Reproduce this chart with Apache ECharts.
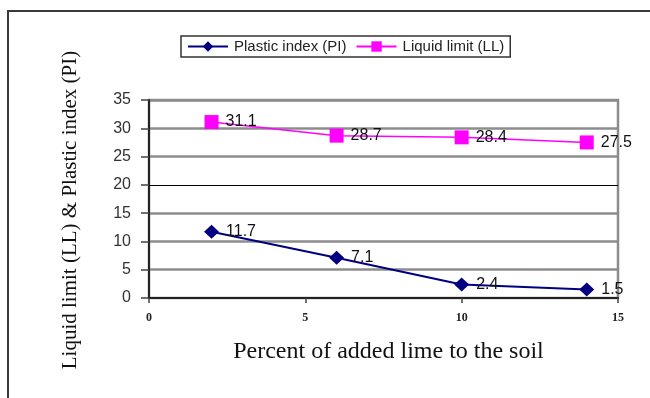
<!DOCTYPE html>
<html>
<head>
<meta charset="utf-8">
<script src="https://cdn.jsdelivr.net/npm/echarts@6/dist/echarts.min.js"></script>
<style>
  html, body { margin: 0; padding: 0; background: #fff; }
  #chart { width: 650px; height: 398px; }
</style>
</head>
<body>
<div id="chart"></div>
<script>
// Percent of lime added, and the two soil indices
const limePercent = [2, 6, 10, 14];
const plasticIndex = [11.7, 7.1, 2.4, 1.5];
const liquidLimit = [31.1, 28.7, 28.4, 27.5];
const seriesNames = ["Plastic index (PI)", "Liquid limit (LL)"];

const chart = echarts.init(document.getElementById("chart"));

const serif = "'Liberation Serif', 'Times New Roman', serif";
const sans = "'Liberation Sans', Arial, sans-serif";

// gridline colours per line (0..35); the 20 line is drawn thin and black via markLine
const gridColors = ["transparent", "#8c8c8c", "#8c8c8c", "#8c8c8c", "transparent", "#8c8c8c", "#8c8c8c", "#8c8c8c"];

const option = {
  animation: false,
  backgroundColor: "#fff",
  graphic: [
    {
      type: "rect",
      shape: { x: 8, y: 11, width: 800, height: 600 },
      style: { fill: "none", stroke: "#3a3a3a", lineWidth: 2 },
      silent: true,
    },
  ],
  legend: {
    left: 181,
    top: 36,
    padding: [3, 6, 3, 6],
    itemWidth: 40,
    itemHeight: 13,
    itemGap: 9,
    borderColor: "#333",
    borderWidth: 1.5,
    borderRadius: 0,
    textStyle: { fontFamily: sans, fontSize: 15, color: "#222", padding: [0, 0, 0, 1] },
    data: seriesNames,
  },
  grid: {
    left: 149,
    right: 32,
    top: 100,
    bottom: 100,
    show: true,
    borderColor: "#8c8c8c",
    borderWidth: 2.5,
  },
  xAxis: {
    type: "value",
    min: 0,
    max: 15,
    interval: 5,
    name: "Percent of added lime to the soil",
    nameLocation: "middle",
    nameGap: 42,
    nameTextStyle: { fontFamily: serif, fontSize: 24, color: "#111", padding: [0, 0, 0, 10] },
    axisLine: { lineStyle: { color: "#222", width: 2 } },
    axisTick: { show: true, length: 5, lineStyle: { color: "#444", width: 1.5 } },
    axisLabel: { margin: 14, fontFamily: serif, fontSize: 12, fontWeight: "bold", color: "#222" },
    splitLine: { show: false },
  },
  yAxis: {
    type: "value",
    min: 0,
    max: 35,
    interval: 5,
    name: "Liquid limit (LL) & Plastic index (PI)",
    nameLocation: "middle",
    nameGap: 68,
    nameRotate: 90,
    nameTextStyle: { fontFamily: serif, fontSize: 21, color: "#111", padding: [0, 22, 0, 0] },
    axisLine: { show: true, lineStyle: { color: "#222", width: 2 } },
    axisTick: { show: true, length: 8, lineStyle: { color: "#444", width: 1.5 } },
    axisLabel: { margin: 18, fontFamily: sans, fontSize: 16, color: "#333" },
    splitLine: { show: true, lineStyle: { color: gridColors, width: 2.5 } },
  },
  series: [
    {
      name: seriesNames[0],
      type: "line",
      data: limePercent.map((x, i) => [x, plasticIndex[i]]),
      symbol: "diamond",
      symbolSize: [15, 14],
      color: "#000080",
      lineStyle: { color: "#000080", width: 2 },
      itemStyle: { color: "#000080" },
      label: {
        show: true,
        position: "right",
        distance: 7,
        fontFamily: sans,
        fontSize: 16,
        color: "#111",
        formatter: (p) => p.value[1],
      },
      markLine: {
        silent: true,
        symbol: "none",
        label: { show: false },
        lineStyle: { color: "#000", width: 1, type: "solid" },
        data: [{ yAxis: 20 }],
      },
      z: 3,
    },
    {
      name: seriesNames[1],
      type: "line",
      data: limePercent.map((x, i) => [x, liquidLimit[i]]),
      symbol: "rect",
      symbolSize: 14,
      color: "#ff00ff",
      lineStyle: { color: "#ff00ff", width: 1.5 },
      itemStyle: { color: "#ff00ff" },
      label: {
        show: true,
        position: "right",
        distance: 7,
        fontFamily: sans,
        fontSize: 16,
        color: "#111",
        formatter: (p) => p.value[1],
      },
      z: 3,
    },
  ],
};

chart.setOption(option);
</script>
</body>
</html>
